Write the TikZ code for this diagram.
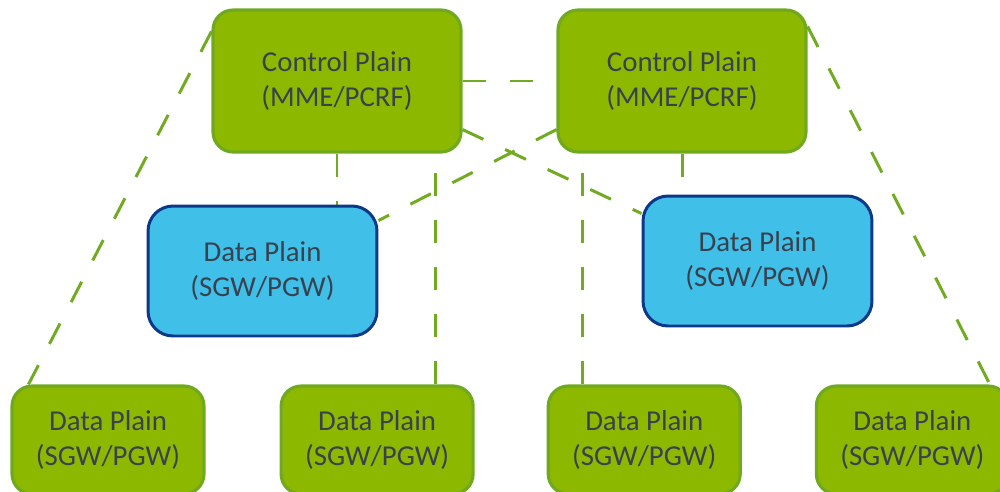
\documentclass[tikz,border=0pt]{standalone}
\usepackage{fontspec}
\setmainfont{Carlito}
\usepackage{xcolor}
\usepackage{tikz}
\usetikzlibrary{positioning, backgrounds}

\definecolor{plaingreen}{HTML}{8DB800}
\definecolor{plainedge}{HTML}{70A91F}
\definecolor{linkgreen}{HTML}{72AB22}
\definecolor{gwblue}{HTML}{40BFE8}
\definecolor{gwedge}{HTML}{0B3888}
\definecolor{labeltext}{HTML}{38424F}

\begin{document}
\begin{tikzpicture}[x=0.02cm, y=-0.02cm,
  box/.style={rectangle, draw, line width=1.8pt, rounded corners=0.4cm, inner sep=0pt,
    align=center, text=labeltext, font=\fontsize{16.4pt}{19.9pt}\selectfont},
  ctrlbox/.style={box, fill=plaingreen, draw=plainedge, minimum width=4.96cm, minimum height=2.84cm},
  gwbox/.style={box, fill=gwblue, draw=gwedge, line width=1.7pt, rounded corners=0.5cm,
    minimum width=4.58cm, minimum height=2.6cm},
  dpbox/.style={box, fill=plaingreen, draw=plainedge, minimum width=3.84cm, minimum height=2.16cm},
  link/.style={draw=linkgreen, line width=1.7pt, dash pattern=on 0.46cm off 0.48cm},
]
  \useasboundingbox (0,0) rectangle (1000,491);
  \clip (0,0) rectangle (1000,491);

  % Control plain
  \node[ctrlbox] (c1) at (337,81) {Control Plain\\(MME/PCRF)};
  \node[ctrlbox] (c2) at (682,81) {Control Plain\\(MME/PCRF)};

  % Data plain, middle row
  \node[gwbox] (b1) at (262.5,271) {Data Plain\\(SGW/PGW)};
  \node[gwbox] (b2) at (757.5,261) {Data Plain\\(SGW/PGW)};

  % Data plain, bottom row
  \node[dpbox] (d1) at (108,440) {Data Plain\\(SGW/PGW)};
  \node[dpbox, right=1.48cm of d1] (d2) {Data Plain\\(SGW/PGW)};
  \node[dpbox, right=1.44cm of d2] (d3) {Data Plain\\(SGW/PGW)};
  \node[dpbox, right=1.46cm of d3] (d4) {Data Plain\\(SGW/PGW)};

  % Links
  \begin{scope}[on background layer]
    \draw[link] (c1.east) -- (c2.west);
    \draw[link] ([yshift=-0.46cm]c1.north west) -- ([xshift=0.36cm]d1.north west);
    \draw[link] ([yshift=-0.36cm]c2.north east) -- ([xshift=-0.4cm]d4.north east);

    \draw[link] (c1.south) -- (c1.south |- b1.north);
    \draw[link] ([xshift=1.98cm]c1.south) coordinate (t1);
    \draw[link] (t1 |- d2.north) -- (t1);
    \draw[link] (c2.south) -- (c2.south |- b2.north);
    \draw[link] ([xshift=-2cm]c2.south) coordinate (t2);
    \draw[link] (t2 |- d3.north) -- (t2);

    \draw[link] ([yshift=0.48cm]c1.south east) -- ([yshift=-0.38cm]b2.north west);
    \draw[link] ([yshift=0.48cm]c2.south west) -- ([yshift=-0.32cm]b1.north east);
  \end{scope}
\end{tikzpicture}
\end{document}
